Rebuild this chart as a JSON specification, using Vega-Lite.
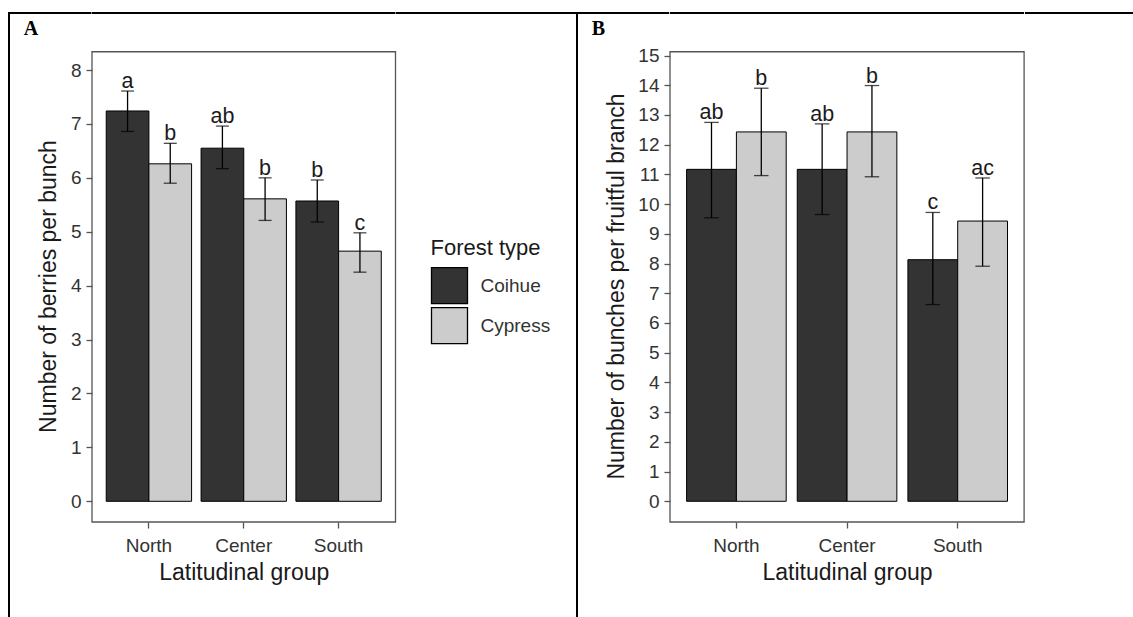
{
  "$schema": "https://vega.github.io/schema/vega-lite/v6.json",
  "background": "white",
  "padding": {"left": 8, "top": 11, "right": 0, "bottom": 0},
  "bounds": "flush",
  "spacing": 0,
  "resolve": {
    "scale": {"x": "independent", "y": "independent", "color": "independent", "xOffset": "independent"},
    "legend": {"color": "independent"}
  },
  "config": {
    "font": "Liberation Sans",
    "view": {"stroke": null},
    "axis": {
      "domain": false, "grid": false, "tickColor": "#555555", "tickWidth": 1.3, "tickSize": 6, "labelOverlap": false,
      "labelFont": "Liberation Sans", "labelFontSize": 19, "labelColor": "#333333",
      "titleFont": "Liberation Sans", "titleFontSize": 23, "titleColor": "#1a1a1a", "titleFontWeight": "normal"
    },
    "axisX": {"labelPadding": 8, "titlePadding": 6, "labelAngle": 0},
    "axisY": {"labelPadding": 5, "titleBaseline": "alphabetic"}
  },
  "hconcat": [
    {"width": 2, "height": 606, "data": {"values": []}, "mark": "point", "view": {"fill": "black", "stroke": null}},
    {"width": 81.5, "height": 2, "data": {"values": []}, "mark": "point", "view": {"fill": "black", "stroke": null}},
    {
      "width": 303.5, "height": 510,
      "title": {"text": "A", "anchor": "start", "frame": "group", "orient": "top", "offset": -24, "baseline": "alphabetic", "dx": -68.2, "dy": 19, "font": "Liberation Serif", "fontWeight": "bold", "fontSize": 20, "color": "black"},
      "data": {"values": [
        {"group": "North", "forest": "Coihue", "mean": 7.24, "lo": 6.86, "hi": 7.61, "letter": "a"},
        {"group": "North", "forest": "Cypress", "mean": 6.26, "lo": 5.90, "hi": 6.64, "letter": "b"},
        {"group": "Center", "forest": "Coihue", "mean": 6.55, "lo": 6.17, "hi": 6.96, "letter": "ab"},
        {"group": "Center", "forest": "Cypress", "mean": 5.61, "lo": 5.21, "hi": 6.00, "letter": "b"},
        {"group": "South", "forest": "Coihue", "mean": 5.57, "lo": 5.18, "hi": 5.96, "letter": "b"},
        {"group": "South", "forest": "Cypress", "mean": 4.64, "lo": 4.25, "hi": 4.98, "letter": "c"}
      ]},
      "layer": [
        {
          "data": {"values": [{"frame": 1}]},
          "mark": {"type": "rect", "fill": "white", "fillOpacity": 0, "stroke": "#555555", "strokeWidth": 1.3},
          "encoding": {
            "y": {"datum": 8.339, "type": "quantitative", "title": "Number of berries per bunch",
                  "axis": {"values": [0, 1, 2, 3, 4, 5, 6, 7, 8], "titleX": -36.5, "titleY": 274}},
            "y2": {"datum": -0.384}
          }
        },
        {
          "mark": {"type": "bar", "stroke": "black", "strokeWidth": 1},
          "encoding": {
            "x": {"field": "group", "type": "nominal", "sort": ["North", "Center", "South"], "scale": {"paddingInner": 0.1, "paddingOuter": 0.15}, "title": "Latitudinal group"},
            "xOffset": {"field": "forest", "type": "nominal", "sort": ["Coihue", "Cypress"], "scale": {"paddingInner": 0, "paddingOuter": 0}},
            "y": {"field": "mean", "type": "quantitative", "title": "Number of berries per bunch",
                  "scale": {"domain": [-0.384, 9.076], "nice": false, "zero": false},
                  "axis": {"values": [0, 1, 2, 3, 4, 5, 6, 7, 8], "titleX": -36.5, "titleY": 274}},
            "y2": {"datum": 0},
            "color": {"field": "forest", "type": "nominal",
                      "scale": {"domain": ["Coihue", "Cypress"], "range": ["#333333", "#cccccc"]},
                      "legend": {"title": "Forest type", "orient": "none", "legendX": 338.5, "legendY": 225.7, "padding": 0,
                                 "symbolType": "square", "symbolSize": 1296, "symbolStrokeColor": "black", "symbolStrokeWidth": 1.3, "symbolOpacity": 1,
                                 "rowPadding": -6, "labelOffset": 12, "labelFontSize": 19, "labelColor": "#333333",
                                 "titleFontSize": 22, "titlePadding": 7, "titleFontWeight": "normal", "titleColor": "#1a1a1a"}}
          }
        },
        {
          "mark": {"type": "rule", "color": "black", "strokeWidth": 1.3},
          "encoding": {
            "x": {"field": "group", "type": "nominal", "sort": ["North", "Center", "South"]},
            "xOffset": {"field": "forest", "type": "nominal", "sort": ["Coihue", "Cypress"]},
            "y": {"field": "lo", "type": "quantitative", "title": "Number of berries per bunch"},
            "y2": {"field": "hi"}
          }
        },
        {
          "mark": {"type": "tick", "orient": "horizontal", "color": "black", "thickness": 1.3, "size": 13},
          "encoding": {
            "x": {"field": "group", "type": "nominal", "sort": ["North", "Center", "South"]},
            "xOffset": {"field": "forest", "type": "nominal", "sort": ["Coihue", "Cypress"]},
            "y": {"field": "lo", "type": "quantitative", "title": "Number of berries per bunch"}
          }
        },
        {
          "mark": {"type": "tick", "orient": "horizontal", "color": "black", "thickness": 1.3, "size": 13},
          "encoding": {
            "x": {"field": "group", "type": "nominal", "sort": ["North", "Center", "South"]},
            "xOffset": {"field": "forest", "type": "nominal", "sort": ["Coihue", "Cypress"]},
            "y": {"field": "hi", "type": "quantitative", "title": "Number of berries per bunch"}
          }
        },
        {
          "mark": {"type": "text", "fontSize": 21.5, "baseline": "alphabetic", "dy": -3, "color": "#1a1a1a"},
          "encoding": {
            "x": {"field": "group", "type": "nominal", "sort": ["North", "Center", "South"]},
            "xOffset": {"field": "forest", "type": "nominal", "sort": ["Coihue", "Cypress"]},
            "y": {"field": "hi", "type": "quantitative", "title": "Number of berries per bunch"},
            "text": {"field": "letter"}
          }
        },
        {
          "data": {"values": [{"border": 1}]},
          "mark": {"type": "rule", "color": "black", "strokeWidth": 2},
          "encoding": {"y": {"datum": 9.0575, "type": "quantitative", "title": "Number of berries per bunch"}}
        }
      ]
    },
    {"width": 180, "height": 2, "data": {"values": []}, "mark": "point", "view": {"fill": "black", "stroke": null}},
    {"width": 2, "height": 606, "data": {"values": []}, "mark": "point", "view": {"fill": "black", "stroke": null}},
    {"width": 91.2, "height": 2, "data": {"values": []}, "mark": "point", "view": {"fill": "black", "stroke": null}},
    {
      "width": 354.1, "height": 510,
      "title": {"text": "B", "anchor": "start", "frame": "group", "orient": "top", "offset": -24, "baseline": "alphabetic", "dx": -78.2, "dy": 19, "font": "Liberation Serif", "fontWeight": "bold", "fontSize": 20, "color": "black"},
      "data": {"values": [
        {"group": "North", "forest": "Coihue", "mean": 11.17, "lo": 9.54, "hi": 12.75, "letter": "ab"},
        {"group": "North", "forest": "Cypress", "mean": 12.43, "lo": 10.96, "hi": 13.90, "letter": "b"},
        {"group": "Center", "forest": "Coihue", "mean": 11.17, "lo": 9.65, "hi": 12.70, "letter": "ab"},
        {"group": "Center", "forest": "Cypress", "mean": 12.43, "lo": 10.92, "hi": 13.99, "letter": "b"},
        {"group": "South", "forest": "Coihue", "mean": 8.13, "lo": 6.62, "hi": 9.72, "letter": "c"},
        {"group": "South", "forest": "Cypress", "mean": 9.43, "lo": 7.91, "hi": 10.88, "letter": "ac"}
      ]},
      "layer": [
        {
          "data": {"values": [{"frame": 1}]},
          "mark": {"type": "rect", "fill": "white", "fillOpacity": 0, "stroke": "#555555", "strokeWidth": 1.3},
          "encoding": {
            "y": {"datum": 15.128, "type": "quantitative", "title": "Number of bunches per fruitful branch",
                  "axis": {"values": [0, 1, 2, 3, 4, 5, 6, 7, 8, 9, 10, 11, 12, 13, 14, 15], "tickCount": 16, "titleX": -46.5, "titleY": 274}},
            "y2": {"datum": -0.697}
          }
        },
        {
          "mark": {"type": "bar", "stroke": "black", "strokeWidth": 1},
          "encoding": {
            "x": {"field": "group", "type": "nominal", "sort": ["North", "Center", "South"], "scale": {"paddingInner": 0.1, "paddingOuter": 0.15}, "title": "Latitudinal group"},
            "xOffset": {"field": "forest", "type": "nominal", "sort": ["Coihue", "Cypress"], "scale": {"paddingInner": 0, "paddingOuter": 0}},
            "y": {"field": "mean", "type": "quantitative", "title": "Number of bunches per fruitful branch",
                  "scale": {"domain": [-0.697, 16.465], "nice": false, "zero": false},
                  "axis": {"values": [0, 1, 2, 3, 4, 5, 6, 7, 8, 9, 10, 11, 12, 13, 14, 15], "tickCount": 16, "titleX": -46.5, "titleY": 274}},
            "y2": {"datum": 0},
            "color": {"field": "forest", "type": "nominal",
                      "scale": {"domain": ["Coihue", "Cypress"], "range": ["#333333", "#cccccc"]},
                      "legend": null}
          }
        },
        {
          "mark": {"type": "rule", "color": "black", "strokeWidth": 1.3},
          "encoding": {
            "x": {"field": "group", "type": "nominal", "sort": ["North", "Center", "South"]},
            "xOffset": {"field": "forest", "type": "nominal", "sort": ["Coihue", "Cypress"]},
            "y": {"field": "lo", "type": "quantitative", "title": "Number of bunches per fruitful branch"},
            "y2": {"field": "hi"}
          }
        },
        {
          "mark": {"type": "tick", "orient": "horizontal", "color": "black", "thickness": 1.3, "size": 14.5},
          "encoding": {
            "x": {"field": "group", "type": "nominal", "sort": ["North", "Center", "South"]},
            "xOffset": {"field": "forest", "type": "nominal", "sort": ["Coihue", "Cypress"]},
            "y": {"field": "lo", "type": "quantitative", "title": "Number of bunches per fruitful branch"}
          }
        },
        {
          "mark": {"type": "tick", "orient": "horizontal", "color": "black", "thickness": 1.3, "size": 14.5},
          "encoding": {
            "x": {"field": "group", "type": "nominal", "sort": ["North", "Center", "South"]},
            "xOffset": {"field": "forest", "type": "nominal", "sort": ["Coihue", "Cypress"]},
            "y": {"field": "hi", "type": "quantitative", "title": "Number of bunches per fruitful branch"}
          }
        },
        {
          "mark": {"type": "text", "fontSize": 21.5, "baseline": "alphabetic", "dy": -3, "color": "#1a1a1a"},
          "encoding": {
            "x": {"field": "group", "type": "nominal", "sort": ["North", "Center", "South"]},
            "xOffset": {"field": "forest", "type": "nominal", "sort": ["Coihue", "Cypress"]},
            "y": {"field": "hi", "type": "quantitative", "title": "Number of bunches per fruitful branch"},
            "text": {"field": "letter"}
          }
        },
        {
          "data": {"values": [{"border": 1}]},
          "mark": {"type": "rule", "color": "black", "strokeWidth": 2},
          "encoding": {"y": {"datum": 16.431, "type": "quantitative", "title": "Number of bunches per fruitful branch"}}
        }
      ]
    },
    {"width": 110.7, "height": 2, "data": {"values": []}, "mark": "point", "view": {"fill": "black", "stroke": null}}
  ]
}
